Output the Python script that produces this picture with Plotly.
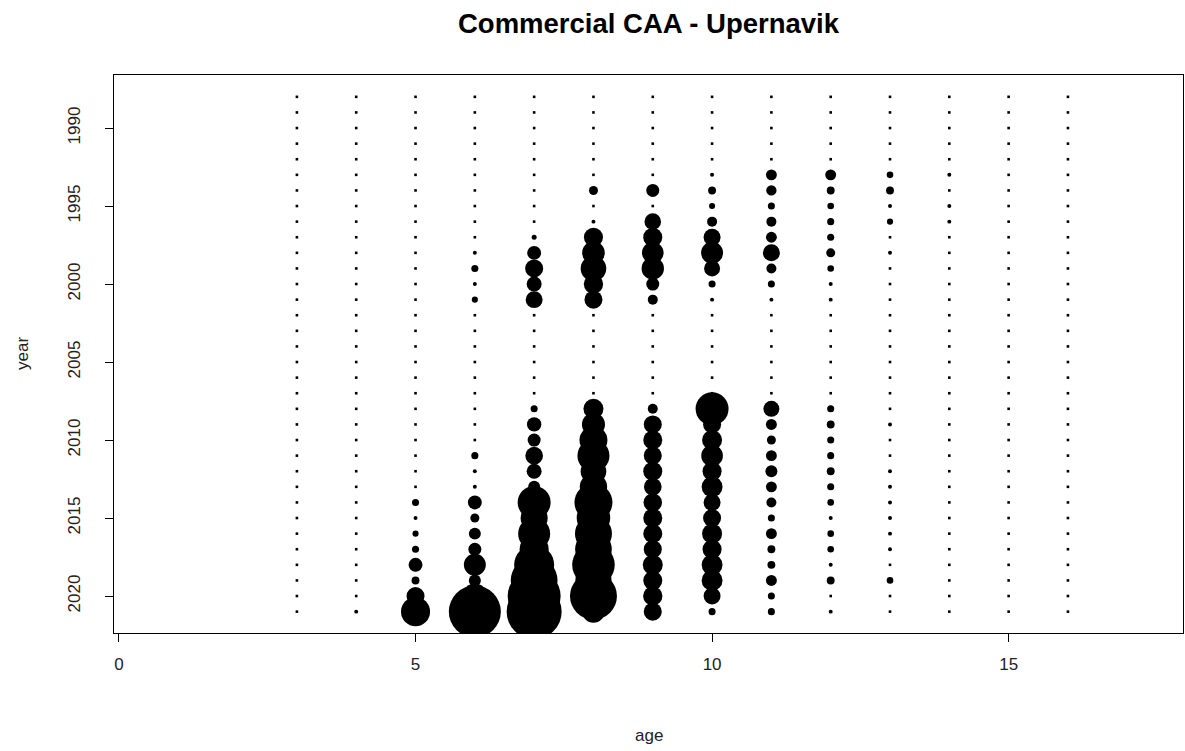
import plotly.graph_objects as go

# ---- data (catch-at-age index) ----
years = list(range(1988, 2022))
ages = [3, 4, 5, 6, 7, 8, 9, 10, 11, 12, 13, 14, 15, 16]

age3 = [0]*34
age4 = [0]*33 + [2.5]
age5 = [0,0,0,0,0, 0,0,0,0,0, 0,0,0,0,0, 0,0,0,0,0, 0,0,0,0,0, 0,8,2.5,6,8, 31,10,52,135]
age6 = [0,0,0,0,0, 0,0,0,0,0, 2.5,8,2.5,6,0, 0,0,0,0,0, 0,0,0,8,2.5, 2.5,31,13,23,27, 77,23,100,433]
age7 = [0,0,0,0,0, 0,0,0,0,4, 31,52,36,46,0, 0,0,0,0,0, 8,33,27,50,36, 23,174,117,164,135, 256,350,449,484]
age8 = [0,0,0,0,0, 0,13,0,2.5,58, 82,105,60,52,0, 0,0,0,0,0, 64,85,125,164,105, 120,231,180,219,215, 290,210,353,80]
age9 = [0,0,0,0,0, 0,27,0,44,58, 75,80,27,16,0, 0,0,0,0,0, 16,52,58,52,58, 50,55,58,58,52, 64,58,60,52]
age10 = [0,0,0,0,0, 2.5,10,6,16,46, 77,41,8,2.5,0, 0,0,0,0,0, 174,52,64,75,58, 70,46,52,64,58, 70,70,46,8]
age11 = [0,0,0,0,0, 19,17,8,16,19, 46,16,8,2.5,0, 0,0,0,0,0, 41,19,13,19,23, 19,16,8,19,10, 10,19,8,8]
age12 = [0,0,0,0,0, 19,10,7,8,8, 13,7,2.5,2.5,0, 0,0,0,0,0, 8,10,8,8,10, 8,7,2.5,7,7, 2.5,10,0,2.5]
age13 = [0,0,0,0,0, 7,10,2.5,6,0, 2.5,0,0,0,0, 0,0,0,0,0, 0,2.5,0,0,2.5, 2.5,2.5,2.5,2.5,2.5, 0,7,0,0]
age14 = [0,0,0,0,0, 2.5,0,2.5,2.5,0, 0,0,0,0,0, 0,0,0,0,0, 0,0,0,0,0, 0,0,0,0,0, 0,0,0,0]
age15 = [0]*34
age16 = [0]*34

caa = [age3, age4, age5, age6, age7, age8, age9, age10, age11, age12, age13, age14, age15, age16]

x_tick_vals = [0, 5, 10, 15]
y_tick_vals = [1990, 1995, 2000, 2005, 2010, 2015, 2020]

# ---- build long form ----
zx, zy, bx, by, bv = [], [], [], [], []
for a, col in zip(ages, caa):
    for yr, v in zip(years, col):
        if v > 0:
            bx.append(a); by.append(yr); bv.append(v)
        else:
            zx.append(a); zy.append(yr)

fig = go.Figure()
fig.add_trace(go.Scatter(
    x=zx, y=zy, mode="markers",
    marker=dict(symbol="square", size=2.6, color="black", opacity=1, line=dict(width=0)),
    hoverinfo="skip", showlegend=False))
fig.add_trace(go.Scatter(
    x=bx, y=by, mode="markers",
    marker=dict(symbol="circle", size=bv, sizemode="area", sizeref=0.32,
                color="black", opacity=1, line=dict(width=0)),
    showlegend=False))

font_family = "Liberation Sans, Arial, sans-serif"
H, W = 751, 1185
ML, MR, MT, MB = 114, 2, 75, 118
plot_h = H - MT - MB
plot_w = W - ML - MR

fig.update_layout(
    width=W, height=H,
    margin=dict(l=ML, r=MR, t=MT, b=MB),
    paper_bgcolor="white", plot_bgcolor="white",
    font=dict(family=font_family, size=17, color="#222"),
    title=dict(text="<b>Commercial CAA - Upernavik</b>", x=0.5, xref="paper",
               y=1 - 23 / H, yref="container", yanchor="middle", xanchor="center",
               font=dict(size=27.5, family=font_family, color="black")),
    xaxis=dict(range=[-0.084, 17.94], tickvals=x_tick_vals, ticks="outside", ticklen=8,
               tickcolor="black", showgrid=False, zeroline=False,
               showline=True, linecolor="black", linewidth=1, mirror=True,
               tickfont=dict(size=17, color="#222"), ticklabelstandoff=8),
    yaxis=dict(range=[2022.37, 1986.6], tickvals=y_tick_vals, ticks="outside", ticklen=8,
               tickcolor="black", showgrid=False, zeroline=False,
               showline=True, linecolor="black", linewidth=1, mirror=True,
               tickangle=-90, tickfont=dict(size=17, color="#222"), ticklabelstandoff=18),
    annotations=[
        dict(text="age", x=0.5, xref="paper", y=(H - MB - 735) / plot_h, yref="paper",
             yanchor="middle", showarrow=False, font=dict(size=17, color="#222")),
        dict(text="year", textangle=-90, x=(22 - ML) / plot_w, xref="paper",
             y=0.5, yref="paper", xanchor="center", showarrow=False,
             font=dict(size=17, color="#222")),
    ],
)

fig.write_html("out.html", config={"displayModeBar": False},
               post_script="document.body.style.margin='0';document.body.style.padding='0';")
